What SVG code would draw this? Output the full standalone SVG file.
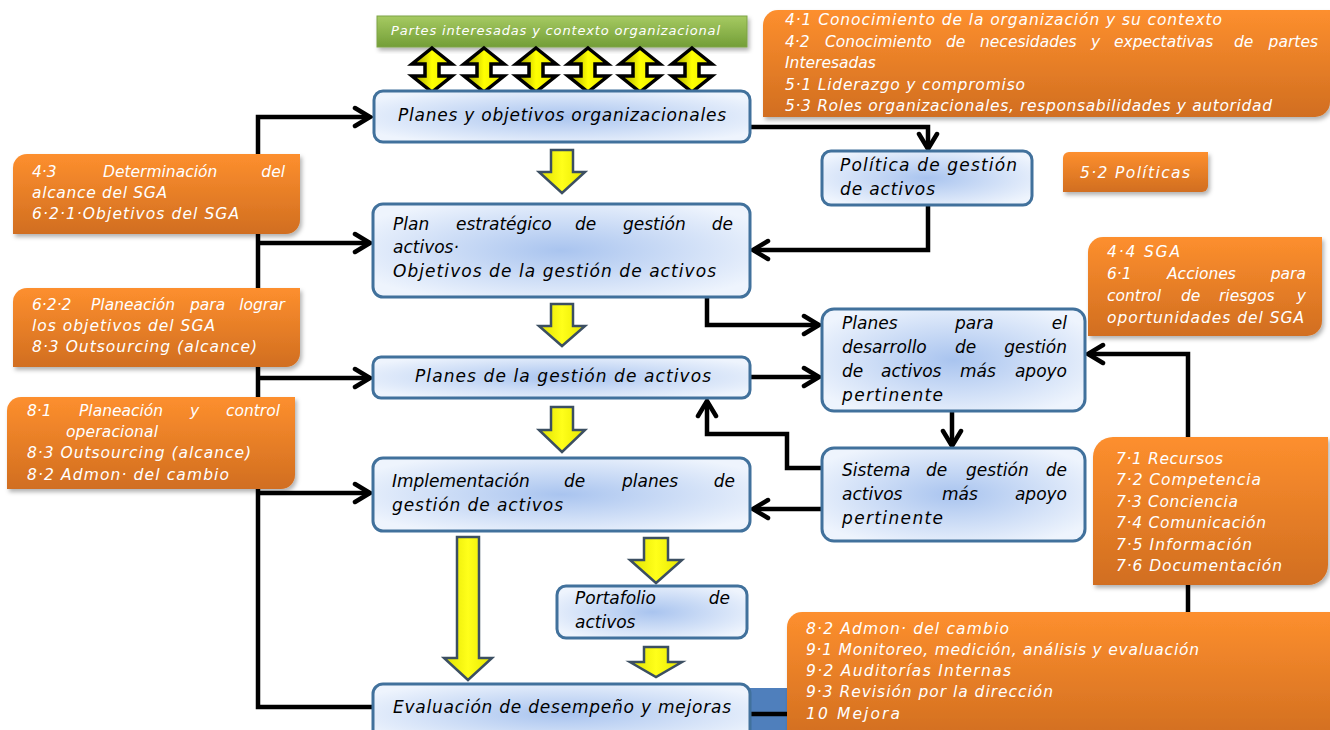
<svg xmlns="http://www.w3.org/2000/svg" xmlns:xlink="http://www.w3.org/1999/xlink" width="1330" height="730" viewBox="0 0 1330 730">
<defs>
  <style>
    .nt { font-family: "DejaVu Sans", "Liberation Sans", sans-serif; font-style: italic; font-size: 17px; fill: #000; }
    .ot { font-family: "DejaVu Sans", "Liberation Sans", sans-serif; font-style: italic; font-size: 15.5px; fill: #fff; }
    .gt { font-family: "DejaVu Sans", "Liberation Sans", sans-serif; font-style: italic; font-size: 13px; fill: #fff; }
    .e { text-anchor: end; }
    .node { fill: url(#nodeGrad); stroke: #41719c; stroke-width: 3; }
    .org { fill: url(#orgGrad); filter: url(#shadow); }
    .conn { fill: none; stroke: #000; stroke-width: 4.5; stroke-linejoin: miter; }
    .ya { fill: url(#yGrad); stroke: #3c4f62; stroke-width: 2.5; stroke-linejoin: miter; }
    .da { fill: url(#dGrad); stroke: #000; stroke-width: 3.5; stroke-linejoin: miter; }
  </style>
  <radialGradient id="nodeGrad" cx="0.5" cy="0.5" r="0.6">
    <stop offset="0" stop-color="#a9c4ef"/>
    <stop offset="1" stop-color="#eef4fd"/>
  </radialGradient>
  <linearGradient id="orgGrad" x1="0" y1="0" x2="0" y2="1">
    <stop offset="0" stop-color="#fd8f2e"/>
    <stop offset="1" stop-color="#d16e20"/>
  </linearGradient>
  <linearGradient id="greenGrad" x1="0" y1="0" x2="0" y2="1">
    <stop offset="0" stop-color="#a6ca62"/>
    <stop offset="1" stop-color="#739e37"/>
  </linearGradient>
  <linearGradient id="yGrad" x1="0" y1="0" x2="1" y2="0">
    <stop offset="0" stop-color="#e0e000"/>
    <stop offset="0.5" stop-color="#ffff1a"/>
    <stop offset="1" stop-color="#e6e600"/>
  </linearGradient>
  <linearGradient id="dGrad" x1="0" y1="0" x2="1" y2="0">
    <stop offset="0" stop-color="#9c9c00"/>
    <stop offset="0.5" stop-color="#ffff00"/>
    <stop offset="1" stop-color="#e8e800"/>
  </linearGradient>
  <filter id="shadow" x="-5%" y="-10%" width="115%" height="130%">
    <feDropShadow dx="2" dy="3" stdDeviation="2" flood-color="#000" flood-opacity="0.3"/>
  </filter>
  <marker id="arr" markerUnits="userSpaceOnUse" markerWidth="24" markerHeight="24" viewBox="0 0 24 24" refX="20" refY="12" orient="auto">
    <path d="M5,3 L20,12 L5,21" fill="none" stroke="#000" stroke-width="4.5" stroke-linecap="round" stroke-linejoin="miter"/>
  </marker>
  <polygon id="dbl" class="da" points="0,48 20,64 7,64 7,76 20,76 0,92 -20,76 -7,76 -7,64 -20,64"/>
</defs>

<rect x="0" y="0" width="1330" height="730" fill="#fff"/>

<!-- blue fragment behind bottom-right -->
<rect x="745" y="688" width="60" height="42" fill="#4f7fbc"/>

<g id="connectors">
  <path class="conn" d="M374,707 H258 V117 H370" marker-end="url(#arr)"/>
  <path class="conn" d="M258,243 H370" marker-end="url(#arr)"/>
  <path class="conn" d="M258,378 H370" marker-end="url(#arr)"/>
  <path class="conn" d="M258,493 H370" marker-end="url(#arr)"/>
  <path class="conn" d="M750,127 H928 V149" marker-end="url(#arr)"/>
  <path class="conn" d="M928,205 V250 H753" marker-end="url(#arr)"/>
  <path class="conn" d="M707,297 V325 H819" marker-end="url(#arr)"/>
  <path class="conn" d="M750,377 H819" marker-end="url(#arr)"/>
  <path class="conn" d="M952,411 V446" marker-end="url(#arr)"/>
  <path class="conn" d="M822,468 H787 V434 H707 V401" marker-end="url(#arr)"/>
  <path class="conn" d="M822,509 H753" marker-end="url(#arr)"/>
  <path class="conn" d="M1188,614 V354 H1088" marker-end="url(#arr)"/>
  <path class="conn" d="M750,714 H800"/>
</g>

<g id="stakeholders">
  <rect x="377" y="16" width="370" height="31" fill="url(#greenGrad)" stroke="#7fa347" stroke-width="1" filter="url(#shadow)"/>
  <text class="gt" x="391" y="35" textLength="329" lengthAdjust="spacing">Partes interesadas y contexto organizacional</text>
</g>

<g id="double-arrows">
  <use xlink:href="#dbl" href="#dbl" x="432" y="0"/>
  <use xlink:href="#dbl" href="#dbl" x="484" y="0"/>
  <use xlink:href="#dbl" href="#dbl" x="536" y="0"/>
  <use xlink:href="#dbl" href="#dbl" x="588" y="0"/>
  <use xlink:href="#dbl" href="#dbl" x="640" y="0"/>
  <use xlink:href="#dbl" href="#dbl" x="692" y="0"/>
</g>

<g id="yellow-arrows">
  <polygon class="ya" points="551,150 573,150 573,172 585,172 562,193 539,172 551,172"/>
  <polygon class="ya" points="551,304 573,304 573,326 585,326 562,346 539,326 551,326"/>
  <polygon class="ya" points="551,407 573,407 573,430 585,430 562,452 539,430 551,430"/>
  <polygon class="ya" points="457,537 479,537 479,658 492,658 468,680 444,658 457,658"/>
  <polygon class="ya" points="644,538 668,538 668,560 682,560 656,583 630,560 644,560"/>
  <polygon class="ya" points="644,647 668,647 668,662 682,662 656,677 630,662 644,662"/>
</g>

<g id="n-planes-objetivos">
  <rect class="node" x="374" y="91" width="376" height="51" rx="9"/>
  <text class="nt" x="398" y="121" textLength="328" lengthAdjust="spacing">Planes y objetivos organizacionales</text>
</g>

<g id="n-plan-estrategico">
  <rect class="node" x="373" y="204" width="377" height="93" rx="10"/>
  <text class="nt" y="230"><tspan x="393">Plan</tspan><tspan x="456">estratégico</tspan><tspan x="575">de</tspan><tspan x="623">gestión</tspan><tspan x="733" class="e">de</tspan></text>
  <text class="nt" x="393" y="253">activos·</text>
  <text class="nt" x="393" y="277" textLength="323" lengthAdjust="spacing">Objetivos de la gestión de activos</text>
</g>

<g id="n-planes-gestion">
  <rect class="node" x="373" y="357" width="377" height="41" rx="8"/>
  <text class="nt" x="415" y="382" textLength="296" lengthAdjust="spacing">Planes de la gestión de activos</text>
</g>

<g id="n-implementacion">
  <rect class="node" x="373" y="458" width="377" height="73" rx="10"/>
  <text class="nt" y="487"><tspan x="392">Implementación</tspan><tspan x="564">de</tspan><tspan x="622">planes</tspan><tspan x="735" class="e">de</tspan></text>
  <text class="nt" x="392" y="511" textLength="171" lengthAdjust="spacing">gestión de activos</text>
</g>

<g id="n-portafolio">
  <rect class="node" x="557" y="586" width="190" height="52" rx="9"/>
  <text class="nt" y="604"><tspan x="575">Portafolio</tspan><tspan x="730" class="e">de</tspan></text>
  <text class="nt" x="575" y="628">activos</text>
</g>

<g id="n-evaluacion">
  <rect class="node" x="373" y="684" width="377" height="60" rx="10"/>
  <text class="nt" x="393" y="713" textLength="338" lengthAdjust="spacing">Evaluación de desempeño y mejoras</text>
</g>

<g id="n-politica">
  <rect class="node" x="822" y="151" width="210" height="54" rx="9"/>
  <text class="nt" x="840" y="171" textLength="177" lengthAdjust="spacing">Política de gestión</text>
  <text class="nt" x="840" y="195" textLength="95" lengthAdjust="spacing">de activos</text>
</g>

<g id="n-planes-desarrollo">
  <rect class="node" x="822" y="309" width="263" height="102" rx="12"/>
  <text class="nt" y="329"><tspan x="842">Planes</tspan><tspan x="955">para</tspan><tspan x="1067" class="e">el</tspan></text>
  <text class="nt" y="353"><tspan x="842">desarrollo</tspan><tspan x="955">de</tspan><tspan x="1067" class="e">gestión</tspan></text>
  <text class="nt" y="377"><tspan x="842">de</tspan><tspan x="881">activos</tspan><tspan x="960">más</tspan><tspan x="1067" class="e">apoyo</tspan></text>
  <text class="nt" x="842" y="401" textLength="101" lengthAdjust="spacing">pertinente</text>
</g>

<g id="n-sistema">
  <rect class="node" x="822" y="448" width="263" height="93" rx="12"/>
  <text class="nt" y="476"><tspan x="842">Sistema</tspan><tspan x="926">de</tspan><tspan x="966">gestión</tspan><tspan x="1067" class="e">de</tspan></text>
  <text class="nt" y="500"><tspan x="842">activos</tspan><tspan x="942">más</tspan><tspan x="1067" class="e">apoyo</tspan></text>
  <text class="nt" x="842" y="524" textLength="101" lengthAdjust="spacing">pertinente</text>
</g>

<g id="o-contexto">
  <path class="org" d="M778,10 H1330 V102 A15,15 0 0 1 1315,117 H763 V25 A15,15 0 0 1 778,10 Z"/>
  <text class="ot" x="785" y="25" textLength="437" lengthAdjust="spacing">4·1 Conocimiento de la organización y su contexto</text>
  <text class="ot" y="47"><tspan x="785">4·2</tspan><tspan x="825">Conocimiento</tspan><tspan x="946">de</tspan><tspan x="980">necesidades</tspan><tspan x="1091">y</tspan><tspan x="1114">expectativas</tspan><tspan x="1234">de</tspan><tspan x="1318" class="e">partes</tspan></text>
  <text class="ot" x="785" y="68">Interesadas</text>
  <text class="ot" x="785" y="90" textLength="240" lengthAdjust="spacing">5·1 Liderazgo y compromiso</text>
  <text class="ot" x="785" y="111" textLength="487" lengthAdjust="spacing">5·3 Roles organizacionales, responsabilidades y autoridad</text>
</g>

<g id="o-alcance">
  <path class="org" d="M27,154 H300 V220 A14,14 0 0 1 286,234 H13 V168 A14,14 0 0 1 27,154 Z"/>
  <text class="ot" y="177"><tspan x="32">4·3</tspan><tspan x="103">Determinación</tspan><tspan x="285" class="e">del</tspan></text>
  <text class="ot" x="32" y="198" textLength="135" lengthAdjust="spacing">alcance del SGA</text>
  <text class="ot" x="32" y="219" textLength="207" lengthAdjust="spacing">6·2·1·Objetivos del SGA</text>
</g>

<g id="o-planeacion">
  <path class="org" d="M27,288 H300 V353 A14,14 0 0 1 286,367 H13 V302 A14,14 0 0 1 27,288 Z"/>
  <text class="ot" y="310"><tspan x="32">6·2·2</tspan><tspan x="91">Planeación</tspan><tspan x="190">para</tspan><tspan x="285" class="e">lograr</tspan></text>
  <text class="ot" x="32" y="331" textLength="183" lengthAdjust="spacing">los objetivos del SGA</text>
  <text class="ot" x="32" y="352" textLength="225" lengthAdjust="spacing">8·3 Outsourcing (alcance)</text>
</g>

<g id="o-operacional">
  <path class="org" d="M21,397 H295 V475 A14,14 0 0 1 281,489 H7 V411 A14,14 0 0 1 21,397 Z"/>
  <text class="ot" y="416"><tspan x="27">8·1</tspan><tspan x="79">Planeación</tspan><tspan x="190">y</tspan><tspan x="280" class="e">control</tspan></text>
  <text class="ot" x="66" y="437" textLength="92" lengthAdjust="spacing">operacional</text>
  <text class="ot" x="27" y="458" textLength="224" lengthAdjust="spacing">8·3 Outsourcing (alcance)</text>
  <text class="ot" x="27" y="480" textLength="202" lengthAdjust="spacing">8·2 Admon· del cambio</text>
</g>

<g id="o-politicas">
  <path class="org" d="M1069,152 H1208 V186 A6,6 0 0 1 1202,192 H1063 V158 A6,6 0 0 1 1069,152 Z"/>
  <text class="ot" x="1080" y="178" textLength="110" lengthAdjust="spacing">5·2 Políticas</text>
</g>

<g id="o-sga">
  <path class="org" d="M1103,237 H1322 V321 A15,15 0 0 1 1307,336 H1088 V252 A15,15 0 0 1 1103,237 Z"/>
  <text class="ot" x="1107" y="257" textLength="73" lengthAdjust="spacing">4·4 SGA</text>
  <text class="ot" y="279"><tspan x="1107">6·1</tspan><tspan x="1167">Acciones</tspan><tspan x="1306" class="e">para</tspan></text>
  <text class="ot" y="301"><tspan x="1107">control</tspan><tspan x="1181">de</tspan><tspan x="1219">riesgos</tspan><tspan x="1306" class="e">y</tspan></text>
  <text class="ot" x="1107" y="323" textLength="197" lengthAdjust="spacing">oportunidades del SGA</text>
</g>

<g id="o-recursos">
  <path class="org" d="M1113,437 H1328 V565 A20,20 0 0 1 1308,585 H1093 V457 A20,20 0 0 1 1113,437 Z"/>
  <text class="ot" x="1116" y="464" textLength="107" lengthAdjust="spacing">7·1 Recursos</text>
  <text class="ot" x="1116" y="485" textLength="145" lengthAdjust="spacing">7·2 Competencia</text>
  <text class="ot" x="1116" y="507" textLength="122" lengthAdjust="spacing">7·3 Conciencia</text>
  <text class="ot" x="1116" y="528" textLength="150" lengthAdjust="spacing">7·4 Comunicación</text>
  <text class="ot" x="1116" y="550" textLength="136" lengthAdjust="spacing">7·5 Información</text>
  <text class="ot" x="1116" y="571" textLength="166" lengthAdjust="spacing">7·6 Documentación</text>
</g>

<g id="o-evaluacion">
  <path class="org" d="M802,612 H1330 V740 H787 V627 A15,15 0 0 1 802,612 Z"/>
  <text class="ot" x="806" y="634" textLength="203" lengthAdjust="spacing">8·2 Admon· del cambio</text>
  <text class="ot" x="806" y="655" textLength="393" lengthAdjust="spacing">9·1 Monitoreo, medición, análisis y evaluación</text>
  <text class="ot" x="806" y="676" textLength="205" lengthAdjust="spacing">9·2 Auditorías Internas</text>
  <text class="ot" x="806" y="697" textLength="247" lengthAdjust="spacing">9·3 Revisión por la dirección</text>
  <text class="ot" x="806" y="719" textLength="94" lengthAdjust="spacing">10 Mejora</text>
</g>
</svg>
